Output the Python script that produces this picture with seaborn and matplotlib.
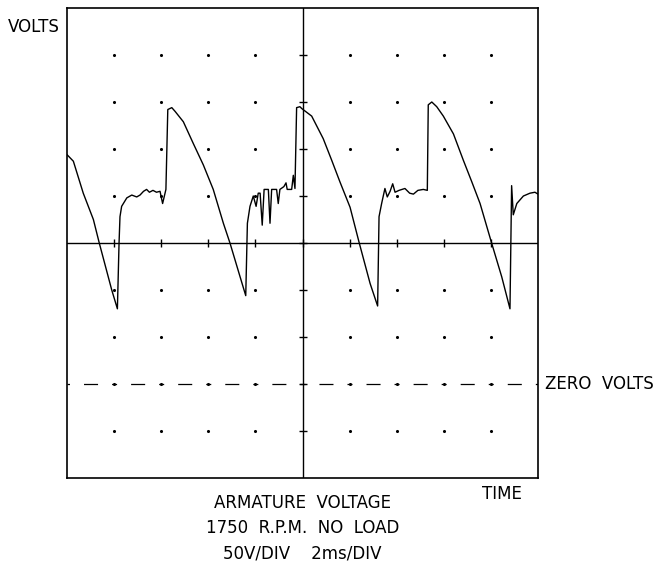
import numpy as np
import pandas as pd
import matplotlib
matplotlib.use("Agg")
import matplotlib.pyplot as plt
import seaborn as sns

# Oscilloscope trace: 2 ms/div, 50 V/div
time_ms = [0.0, 0.27, 0.69, 1.12, 1.37, 1.90, 2.14, 2.21, 2.25, 2.32, 2.54, 2.75,
           2.96, 3.10, 3.25, 3.38, 3.50, 3.65, 3.80, 3.95, 4.06, 4.20, 4.28, 4.45,
           4.59, 4.94, 5.36, 5.79, 6.21, 6.64, 6.92, 7.35, 7.59, 7.66, 7.77, 7.91,
           8.03, 8.12, 8.20, 8.29, 8.37, 8.55, 8.62, 8.69, 8.90, 8.97, 9.04, 9.21,
           9.30, 9.35, 9.54, 9.61, 9.68, 9.75, 9.89, 9.97, 10.39, 10.88, 11.24,
           11.59, 12.02, 12.41, 12.87, 13.19, 13.25, 13.36, 13.50, 13.60, 13.72,
           13.83, 13.93, 14.10, 14.35, 14.55, 14.71, 14.90, 15.13, 15.30, 15.34,
           15.49, 15.70, 15.98, 16.41, 16.83, 17.19, 17.54, 18.03, 18.46, 18.81,
           18.88, 18.95, 19.10, 19.38, 19.66, 19.87, 20.0]
volts = [244, 237, 203, 175, 150, 100, 80, 150, 178, 189, 198, 201,
         199, 201, 205, 207, 204, 206, 204, 205, 192, 207, 292, 294,
         290, 279, 256, 233, 207, 171, 150, 114, 94, 171, 189, 200,
         189, 203, 203, 169, 207, 207, 171, 207, 207, 192, 207, 210,
         214, 207, 207, 222, 208, 294, 295, 293, 285, 261, 238,
         215, 188, 150, 107, 83, 178, 192, 208, 199, 205,
         213, 204, 206, 208, 203, 202, 206, 207, 206, 297,
         300, 295, 285, 266, 238, 215, 192, 150, 114, 80,
         211, 180, 192, 200, 203, 204, 202]

t_min, t_max = 0, 20
v_min, v_max = -100, 400
t_div, v_div = 2, 50
t_center, v_center = 10, 150
zero_volts = 0

title_lines = ["ARMATURE  VOLTAGE", "1750  R.P.M.  NO  LOAD", "50V/DIV    2ms/DIV"]

sns.set_style("white")
plt.rcParams['lines.scale_dashes'] = False
plt.rcParams['font.family'] = ['DejaVu Sans']
plt.rcParams['text.color'] = 'black'

fig = plt.figure(figsize=(6.53, 5.61), dpi=100)
ax = fig.add_axes([67 / 653, 1 - 478 / 561, 471 / 653, 470 / 561])

df = pd.DataFrame({'t': time_ms, 'v': volts})

# graticule dots
gt = np.arange(t_min + t_div, t_max, t_div)
gv = np.arange(v_min + v_div, v_max, v_div)
gt_dots = gt[gt != t_center]
gv_dots = gv[gv != v_center]
TT, VV = np.meshgrid(gt_dots, gv_dots)
ax.scatter(TT.ravel(), VV.ravel(), s=5, color='black', linewidths=0, zorder=2)

# center cross with small ticks
ax.axhline(v_center, color='black', lw=1.0, zorder=2)
ax.axvline(t_center, color='black', lw=1.0, zorder=2)
ax.scatter(gt, np.full_like(gt, v_center, dtype=float), marker='|', s=40,
           color='black', linewidths=1.0, zorder=2)
ax.scatter(np.full_like(gv, t_center, dtype=float), gv, marker='_', s=40,
           color='black', linewidths=1.0, zorder=2)

# zero volts reference line
ax.axhline(zero_volts, color='black', lw=0.9,
           linestyle=(1.8, (3.6, 10.1, 10.1, 10.1)), zorder=2)

sns.lineplot(data=df, x='t', y='v', sort=False, estimator=None,
             color='black', lw=1.0, ax=ax, zorder=3)

ax.set_xlim(t_min, t_max)
ax.set_ylim(v_min, v_max)
ax.set_xticks([])
ax.set_yticks([])
ax.set_xlabel('')
ax.set_ylabel('')
for sp in ax.spines.values():
    sp.set_color('black')
    sp.set_linewidth(1.2)

fs = 12
fig.text(60 / 653, 1 - 27 / 561, "VOLTS", ha='right', va='center', fontsize=fs, color='black')
fig.text(502 / 653, 1 - 494 / 561, "TIME", ha='center', va='center', fontsize=fs, color='black')
fig.text(545 / 653, 1 - 384 / 561, "ZERO  VOLTS", ha='left', va='center', fontsize=fs, color='black')
for i, line in enumerate(title_lines):
    fig.text(302.5 / 653, 1 - (503 + 25 * i) / 561, line,
             ha='center', va='center', fontsize=fs, color='black')

fig.savefig('out.png', dpi=100)
